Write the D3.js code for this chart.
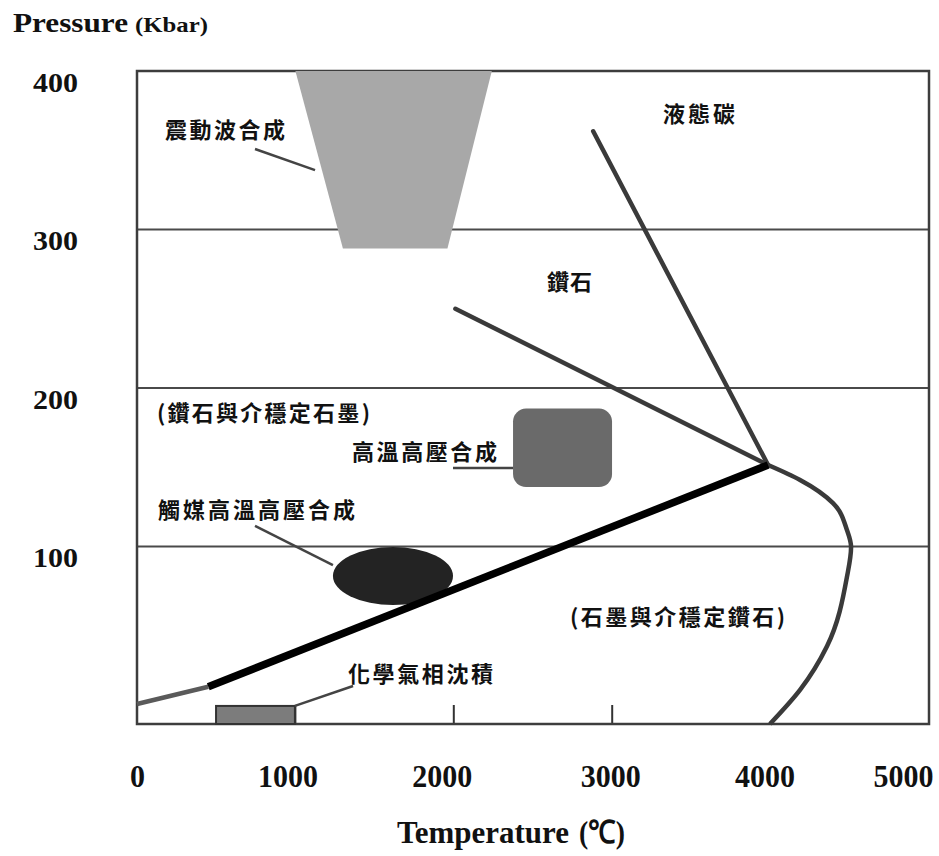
<!DOCTYPE html>
<html><head><meta charset="utf-8">
<script src="https://cdn.jsdelivr.net/npm/d3@7"></script>
<style>
html,body{margin:0;padding:0;background:#fff;}
svg{display:block;}
</style></head>
<body><svg id="chart" width="939" height="856"></svg>
<script>
// ---------- data ----------
const xTicks = [0, 1000, 2000, 3000, 4000, 5000];
const xLabelNudge = [0, -8, -12, -2, -6, -26];   // hand-placed label offsets seen in the original (px)
const yTicks = [100, 200, 300, 400];
const innerTicks = [1000, 2000, 3000];
const gridValues = [100, 200, 300];

// Temperature (°C), Pressure (kbar)
const shockWave = [[1000, 400], [2240, 400], [1960, 288], [1300, 288]];
const meltLine = [[2880, 362], [3984, 151.4]];
const diamondLiquidLine = [[2010, 250], [3984, 151.4]];
const graphiteDiamondLine = [[450, 11.5], [3984, 151.4]];
const lowPressureLine = [[0, 0.6], [450, 11.5]];
const graphiteMeltCurve = [[3984, 151.4], [4186, 142], [4394, 127.4], [4482, 110.4], [4508, 99.7], [4482, 80.8], [4356, 37], [4186, 9.5], [3996, -12]];
const hphtBox = {t0: 2374, t1: 2999, p0: 137.5, p1: 187};
const catalystEllipse = {t: 1616, p: 81.4, rt: 379, rp: 18.3};
const cvdBox = {t0: 499, t1: 997, p0: -12, p1: -0.6};

const leaders = [
  [[745, 350.8], [1124, 337.5]],
  [[1995, 149.5], [2374, 149.5]],
  [[745, 113], [1237, 88.3]],
  [[997, -0.6], [1364, 12]]
];
const labels = [
  {text: "震動波合成", t: 177, p: 364},
  {text: "液態碳", t: 3321, p: 374},
  {text: "鑽石", t: 2588, p: 268},
  {text: "(鑽石與介穩定石墨)", t: 126, p: 185.5},
  {text: "高溫高壓合成", t: 1357, p: 161},
  {text: "觸媒高溫高壓合成", t: 133, p: 124},
  {text: "(石墨與介穩定鑽石)", t: 2734, p: 57},
  {text: "化學氣相沈積", t: 1332, p: 21}
];
const labelWidths = {"震動波合成":120,"液態碳":72,"鑽石":45,"(鑽石與介穩定石墨)":213,"高溫高壓合成":145,"觸媒高溫高壓合成":197,"(石墨與介穩定鑽石)":215,"化學氣相沈積":145};

// ---------- layout ----------
const svg = d3.select("#chart");
const X0 = 137, X1 = 929, Y0 = 724, Y1 = 71;
const x = d3.scaleLinear().domain([0, 5000]).range([X0, X1]);
const y = d3.scaleLinear().domain([-12, 400]).range([Y0, Y1]);
const serif = "'Liberation Serif','Times New Roman',serif";
const cjk = "'Noto Sans CJK TC','Noto Sans CJK SC',sans-serif";

// gridlines
svg.append("g").selectAll("line").data(gridValues).join("line")
  .attr("x1", X0).attr("x2", X1).attr("y1", d => y(d)).attr("y2", d => y(d))
  .attr("stroke", "#4a4a4a").attr("stroke-width", 2);

// inner ticks on the bottom
svg.append("g").selectAll("line").data(innerTicks).join("line")
  .attr("x1", d => x(d)).attr("x2", d => x(d)).attr("y1", Y0).attr("y2", y(0))
  .attr("stroke", "#333").attr("stroke-width", 2);

// frame
svg.append("rect").attr("x", X0).attr("y", Y1).attr("width", X1 - X0).attr("height", Y0 - Y1)
  .attr("fill", "none").attr("stroke", "#3d3d3d").attr("stroke-width", 2.5);

// shock wave trapezoid
svg.append("polygon")
  .attr("points", shockWave.map(d => [x(d[0]), y(d[1])].join(",")).join(" "))
  .attr("fill", "#a8a8a8");

// HPHT box
svg.append("rect")
  .attr("x", x(hphtBox.t0)).attr("y", y(hphtBox.p1))
  .attr("width", x(hphtBox.t1) - x(hphtBox.t0)).attr("height", y(hphtBox.p0) - y(hphtBox.p1))
  .attr("rx", 13).attr("fill", "#6a6a6a");

// catalyst ellipse
svg.append("ellipse")
  .attr("cx", x(catalystEllipse.t)).attr("cy", y(catalystEllipse.p))
  .attr("rx", x(catalystEllipse.rt) - x(0)).attr("ry", y(0) - y(catalystEllipse.rp))
  .attr("fill", "#232323");

// CVD box
svg.append("rect")
  .attr("x", x(cvdBox.t0)).attr("y", y(cvdBox.p1))
  .attr("width", x(cvdBox.t1) - x(cvdBox.t0)).attr("height", y(cvdBox.p0) - y(cvdBox.p1))
  .attr("fill", "#7c7c7c").attr("stroke", "#333").attr("stroke-width", 2);

// leader lines
const straight = d3.line().x(d => x(d[0])).y(d => y(d[1]));
svg.append("g").selectAll("path").data(leaders).join("path")
  .attr("d", straight).attr("fill", "none").attr("stroke", "#444").attr("stroke-width", 2.5);

// phase lines
svg.append("path").attr("d", straight(lowPressureLine)).attr("fill", "none")
  .attr("stroke", "#5a5a5a").attr("stroke-width", 4.5);
svg.append("path").attr("d", straight(meltLine)).attr("fill", "none")
  .attr("stroke", "#3a3a3a").attr("stroke-width", 4.5).attr("stroke-linecap", "round");
svg.append("path").attr("d", straight(diamondLiquidLine)).attr("fill", "none")
  .attr("stroke", "#3a3a3a").attr("stroke-width", 4.5).attr("stroke-linecap", "round");
const curve = d3.line().x(d => x(d[0])).y(d => y(d[1])).curve(d3.curveMonotoneY);
svg.append("path").attr("d", curve(graphiteMeltCurve)).attr("fill", "none")
  .attr("stroke", "#3a3a3a").attr("stroke-width", 4.5);
svg.append("path").attr("d", straight(graphiteDiamondLine)).attr("fill", "none")
  .attr("stroke", "#000").attr("stroke-width", 7.5);

// labels
svg.append("g").selectAll("text").data(labels).join("text")
  .attr("x", d => x(d.t)).attr("y", d => y(d.p))
  .attr("dominant-baseline", "central")
  .attr("textLength", d => labelWidths[d.text]).attr("lengthAdjust", "spacing")
  .attr("font-family", cjk).attr("font-size", 22).attr("font-weight", 600).attr("fill", "#111")
  .text(d => d.text);

// y axis labels
const yAxis = d3.axisLeft(y).tickValues(yTicks).tickSize(0).tickPadding(0);
const gy = svg.append("g").attr("transform", `translate(78,0)`).call(yAxis);
gy.select(".domain").remove();
gy.selectAll("text").attr("font-family", serif).attr("font-weight", "bold")
  .attr("font-size", 28).attr("fill", "#111").attr("dy", "0.72em")
  .attr("textLength", 45).attr("lengthAdjust", "spacingAndGlyphs");

// x axis labels
const xAxis = d3.axisBottom(x).tickValues(xTicks).tickSize(0).tickPadding(0).tickFormat(d3.format("d"));
const gx = svg.append("g").attr("transform", `translate(0,${Y0 + 41})`).call(xAxis);
gx.select(".domain").remove();
gx.selectAll("text").attr("font-family", serif).attr("font-weight", "bold")
  .attr("font-size", 32).attr("fill", "#111").attr("dy", "0.7em")
  .attr("dx", (d, i) => xLabelNudge[i])
  .attr("textLength", d => String(d).length === 1 ? 15 : 60).attr("lengthAdjust", "spacingAndGlyphs");

// axis titles
const pt = svg.append("text").attr("x", 13).attr("y", 32).attr("fill", "#111").attr("font-family", serif);
pt.append("tspan").attr("font-size", 28).attr("font-weight", "bold").text("Pressure")
  .attr("textLength", 115).attr("lengthAdjust", "spacingAndGlyphs");
pt.append("tspan").attr("x", 135).attr("font-size", 22).attr("font-weight", "bold").text("(Kbar)")
  .attr("textLength", 73).attr("lengthAdjust", "spacingAndGlyphs");

const tt = svg.append("text").attr("y", 843).attr("fill", "#111")
  .attr("font-family", serif).attr("font-size", 32).attr("font-weight", "bold");
tt.append("tspan").attr("x", 397).text("Temperature")
  .attr("textLength", 172).attr("lengthAdjust", "spacingAndGlyphs");
tt.append("tspan").attr("x", 579).text("(℃)")
  .attr("textLength", 46).attr("lengthAdjust", "spacingAndGlyphs");
</script>
</body></html>
